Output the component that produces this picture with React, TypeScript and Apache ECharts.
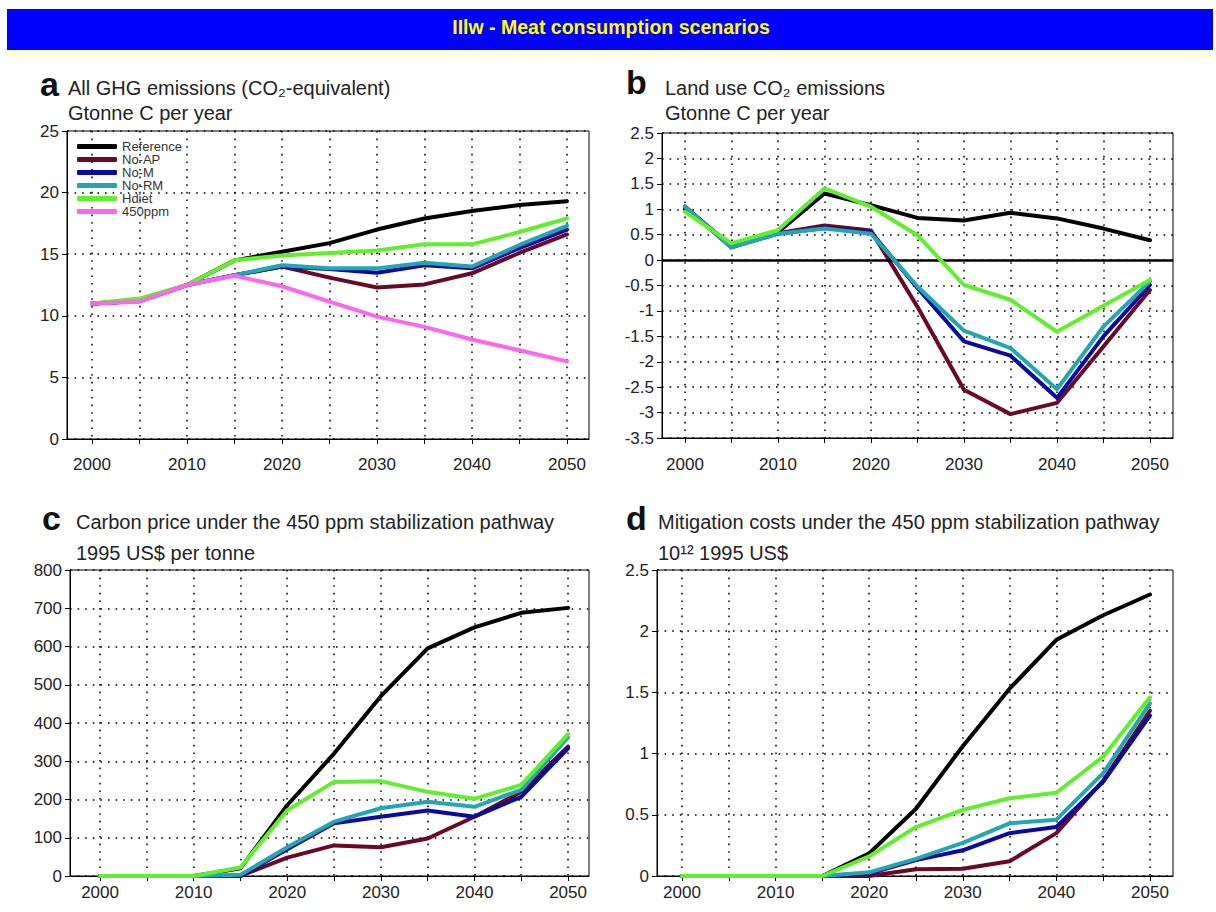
import React, { useEffect, useRef } from "react";
import * as echarts from "echarts";

const years = [2000, 2005, 2010, 2015, 2020, 2025, 2030, 2035, 2040, 2045, 2050];
const labelYears = [2000, 2010, 2020, 2030, 2040, 2050];
const scenarioNames = ["Reference", "No-AP", "No-M", "No-RM", "Hdiet", "450ppm"];
const scenarioColors = ["#000000", "#6a0826", "#0a0aa2", "#22a6b2", "#62ee2e", "#ff66ee"];

// a: All GHG emissions (Gtonne C per year)
const ghgReference = [11.0, 11.2, 12.5, 14.5, 15.2, 15.9, 17.0, 17.9, 18.5, 19.0, 19.3];
const ghgNoAP = [11.0, 11.2, 12.5, 13.3, 14.0, 13.1, 12.3, 12.55, 13.45, 15.1, 16.6];
const ghgNoM = [11.0, 11.2, 12.5, 13.3, 14.0, 13.8, 13.5, 14.1, 13.85, 15.5, 17.0];
const ghgNoRM = [11.0, 11.2, 12.5, 13.3, 14.1, 13.85, 13.85, 14.3, 14.0, 15.75, 17.3];
const ghgHdiet = [11.0, 11.4, 12.5, 14.5, 14.9, 15.1, 15.3, 15.8, 15.8, 16.8, 17.9];
const ghg450ppm = [11.0, 11.15, 12.5, 13.25, 12.4, 11.15, 9.93, 9.1, 8.08, 7.2, 6.3];

// b: Land use CO2 emissions (Gtonne C per year)
const luReference = [1.0, 0.3, 0.55, 1.31, 1.08, 0.83, 0.78, 0.93, 0.82, 0.62, 0.39];
const luNoAP = [1.05, 0.27, 0.53, 0.68, 0.58, -0.92, -2.55, -3.03, -2.81, -1.7, -0.59];
const luNoM = [1.05, 0.25, 0.52, 0.63, 0.55, -0.55, -1.6, -1.88, -2.71, -1.5, -0.49];
const luNoRM = [1.05, 0.25, 0.52, 0.62, 0.52, -0.52, -1.39, -1.73, -2.54, -1.31, -0.42];
const luHdiet = [0.95, 0.33, 0.59, 1.41, 1.05, 0.49, -0.49, -0.78, -1.41, -0.9, -0.39];

// c: Carbon price (1995 US$ per tonne)
const cpReference = [0, 0, 0, 20, 185, 320, 470, 595, 650, 688, 701];
const cpNoAP = [0, 0, 0, 0, 48, 80, 75, 98, 155, 220, 338];
const cpNoM = [0, 0, 0, 0, 70, 138, 155, 171, 155, 207, 334];
const cpNoRM = [0, 0, 0, 3, 75, 142, 177, 194, 181, 225, 362];
const cpHdiet = [0, 0, 0, 22, 172, 246, 248, 220, 202, 238, 371];

// d: Mitigation costs (10^12 1995 US$)
const mcReference = [0, 0, 0, 0, 0.185, 0.55, 1.06, 1.53, 1.93, 2.13, 2.3];
const mcNoAP = [0, 0, 0, 0, 0, 0.055, 0.06, 0.12, 0.35, 0.78, 1.35];
const mcNoM = [0, 0, 0, 0, 0.02, 0.13, 0.21, 0.35, 0.4, 0.77, 1.31];
const mcNoRM = [0, 0, 0, 0, 0.03, 0.14, 0.27, 0.43, 0.46, 0.84, 1.41];
const mcHdiet = [0, 0, 0, 0, 0.16, 0.4, 0.54, 0.635, 0.68, 0.975, 1.46];

const FONT = "'Liberation Sans', Arial, Helvetica, sans-serif";
const TEXT = "#222222";

const panels = [
  { grid: { left: 67, top: 131, width: 522, height: 308 }, xMin: 1997.37, xMax: 2052.32, xMargin: 17,
    min: 0, max: 25, interval: 5,
    data: [ghgReference, ghgNoAP, ghgNoM, ghgNoRM, ghgHdiet, ghg450ppm] },
  { grid: { left: 662, top: 133, width: 511, height: 305 }, xMin: 1997.53, xMax: 2052.48, xMargin: 18,
    min: -3.5, max: 2.5, interval: 0.5,
    data: [luReference, luNoAP, luNoM, luNoRM, luHdiet] },
  { grid: { left: 70, top: 570, width: 519, height: 306 }, xMin: 1996.79, xMax: 2052.24, xMargin: 8,
    min: 0, max: 800, interval: 100,
    data: [cpReference, cpNoAP, cpNoM, cpNoRM, cpHdiet] },
  { grid: { left: 657, top: 570, width: 516, height: 306 }, xMin: 1997.33, xMax: 2052.46, xMargin: 8,
    min: 0, max: 2.5, interval: 0.5,
    data: [mcReference, mcNoAP, mcNoM, mcNoRM, mcHdiet] },
];

const dotted = { color: "#000", width: 1.5, type: [1.6, 6] as any };

function buildOption() {
  const grid = panels.map((p) => ({
    ...p.grid, show: true, borderColor: "#000", borderWidth: 1, backgroundColor: "transparent",
  }));
  const xAxis = panels.map((p, i) => ({
    type: "value", gridIndex: i, min: p.xMin, max: p.xMax,
    axisLine: { show: true, onZero: false, lineStyle: { color: "#000", width: 1 } },
    axisTick: { show: true, customValues: years, length: 5, lineStyle: { color: "#000" } },
    axisLabel: { customValues: labelYears, color: TEXT, fontSize: 17, fontFamily: FONT, margin: p.xMargin,
      formatter: (v: number) => String(Math.round(v)) },
    splitLine: { show: true, lineStyle: dotted },
  }));
  const yAxis = panels.map((p, i) => ({
    type: "value", gridIndex: i, min: p.min, max: p.max, interval: p.interval,
    axisLine: { show: true, onZero: false, lineStyle: { color: "#000", width: 1 } },
    axisTick: { show: true, length: 5, lineStyle: { color: "#000" } },
    axisLabel: { color: TEXT, fontSize: 17, fontFamily: FONT, margin: 8 },
    splitLine: { show: true, lineStyle: dotted },
  }));
  const series: any[] = [];
  panels.forEach((p, pi) => {
    p.data.forEach((arr, si) => {
      const s: any = {
        type: "line", name: scenarioNames[si], xAxisIndex: pi, yAxisIndex: pi,
        data: years.map((y, k) => [y, arr[k]]),
        symbol: "none", smooth: false, z: 3 + si,
        lineStyle: { color: scenarioColors[si], width: 4, cap: "round", join: "round" },
        itemStyle: { color: scenarioColors[si] },
      };
      if (pi === 1 && si === 0) {
        s.markLine = {
          silent: true, symbol: "none", label: { show: false },
          lineStyle: { color: "#000", width: 2.5, type: "solid" },
          data: [{ yAxis: 0 }],
        };
      }
      series.push(s);
    });
  });

  const t = (x: number, y: number, text: string, size: number, bold = false, color = TEXT) => ({
    type: "text", x, y,
    style: { text, fill: color, fontSize: size, fontWeight: bold ? "bold" : "normal", fontFamily: FONT,
      verticalAlign: "middle" },
  });

  const graphic = [
    { type: "rect", shape: { x: 7, y: 9, width: 1206, height: 41 }, style: { fill: "#0000ff" } },
    { type: "rect", shape: { x: 7, y: 50, width: 1206, height: 7 }, style: { fill: "#ffffdc" } },
    { type: "text", x: 611, y: 27,
      style: { text: "IIlw - Meat consumption scenarios", fill: "#ffff00", fontSize: 19.5, fontWeight: "bold",
        fontFamily: FONT, align: "center", verticalAlign: "middle" } },
    t(40, 84, "a", 34, true, "#111"),
    t(68, 88, "All GHG emissions (CO₂-equivalent)", 20),
    t(68, 113, "Gtonne C per year", 20),
    t(626, 82, "b", 34, true, "#111"),
    t(665, 88, "Land use CO₂ emissions", 20),
    t(665, 113, "Gtonne C per year", 20),
    t(42, 518, "c", 34, true, "#111"),
    t(76, 522, "Carbon price under the 450 ppm stabilization pathway", 20),
    t(76, 553, "1995 US$ per tonne", 20),
    t(626, 518, "d", 34, true, "#111"),
    t(658, 522, "Mitigation costs under the 450 ppm stabilization pathway", 20),
    t(658, 553, "10¹² 1995 US$", 20),
  ];

  return {
    animation: false,
    backgroundColor: "#ffffff",
    grid, xAxis, yAxis, series, graphic,
    legend: {
      data: scenarioNames, orient: "vertical", left: 77, top: 140, padding: 0,
      itemWidth: 40, itemHeight: 5, itemGap: 0, icon: "roundRect", selectedMode: false,
      textStyle: { fontSize: 13, color: "#333", fontFamily: FONT, lineHeight: 12.5 },
    },
  };
}

export default function App() {
  const ref = useRef<HTMLDivElement>(null);
  useEffect(() => {
    if (!ref.current) return;
    const chart = echarts.init(ref.current, undefined, { renderer: "svg" });
    chart.setOption(buildOption() as any);
    return () => chart.dispose();
  }, []);
  return (
    <div ref={ref} style={{ position: "absolute", left: 0, top: 0, width: 1216, height: 912, background: "#fff" }} />
  );
}
